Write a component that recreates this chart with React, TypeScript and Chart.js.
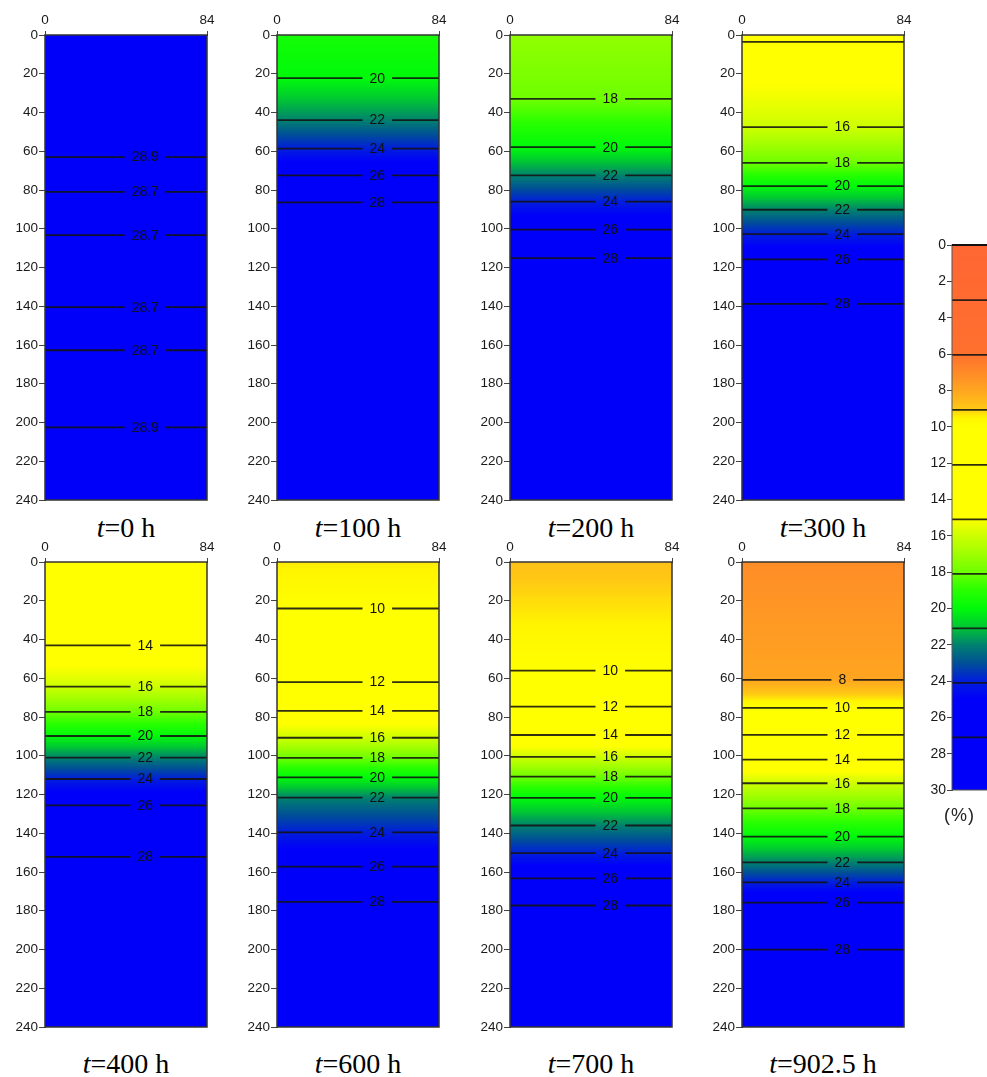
import React, { useEffect, useRef } from 'react';
import { Chart, registerables } from 'chart.js';

Chart.register(...registerables);

// ---------------- data ----------------
const TIMES = ['0', '100', '200', '300', '400', '600', '700', '902.5'];

// moisture content at the surface and at the bottom of each column (%)
const TOP_VALUES = [29.0, 19.5, 17.3, 13.8, 12.5, 9.4, 8.8, 7.1];
const BOTTOM_VALUES = [29.0, 29.5, 29.5, 29.5, 29.5, 29.5, 29.5, 29.5];

// contour depths (cm) and contour values (%)
const DEPTHS_0 = [63, 81, 103.3, 140.5, 162.7, 202.5];
const VALUES_0 = [28.9, 28.7, 28.7, 28.7, 28.7, 28.9];
const DEPTHS_100 = [22.3, 43.9, 58.6, 72.4, 86.4];
const VALUES_100 = [20, 22, 24, 26, 28];
const DEPTHS_200 = [33, 57.9, 72.4, 86, 100.4, 115.2];
const VALUES_200 = [18, 20, 22, 24, 26, 28];
const DEPTHS_300 = [3.5, 47.5, 66, 78, 90.2, 102.8, 115.8, 138.8];
const VALUES_300 = [14, 16, 18, 20, 22, 24, 26, 28];
const DEPTHS_400 = [43, 64.3, 77.4, 89.8, 101, 112, 125.6, 152.2];
const VALUES_400 = [14, 16, 18, 20, 22, 24, 26, 28];
const DEPTHS_600 = [24, 62, 76.8, 90.7, 101.1, 111.2, 121.6, 139.5, 157.2, 175.4];
const VALUES_600 = [10, 12, 14, 16, 18, 20, 22, 24, 26, 28];
const DEPTHS_700 = [56.1, 74.6, 89.3, 100.6, 110.8, 121.7, 136, 150.3, 163.3, 177.3];
const VALUES_700 = [10, 12, 14, 16, 18, 20, 22, 24, 26, 28];
const DEPTHS_902 = [60.8, 75.3, 89.2, 102, 114.2, 127.2, 141.7, 155, 165.4, 175.8, 200.1];
const VALUES_902 = [8, 10, 12, 14, 16, 18, 20, 22, 24, 26, 28];

// contours drawn without a label (panel index -> contour indices)
const UNLABELED = [[], [], [], [0], [], [], [], []];

const X_TICKS = [0, 84];
const LABEL_X = 52; // x position of the contour labels

// colour bar
const CBAR_LEVELS = [3.03, 6.05, 9.08, 12.1, 15.1, 18.1, 21.1, 24.1, 27.1];
const CMAP_VALUES = [0, 6, 7, 8, 9, 9.5, 10, 15, 16, 17, 18, 19, 20, 21, 22, 23, 24, 25, 30];
const CMAP_COLORS = [
  '#ff6633', '#ff702e', '#ff8a28', '#ffa520', '#ffc814', '#fff500', '#ffff00', '#ffff00',
  '#cdff00', '#a0ff00', '#6eff00', '#28ff00', '#00fa0a', '#00c832', '#00826e', '#005096',
  '#001edc', '#0000fa', '#0000fa',
];

const ALL_DEPTHS = [DEPTHS_0, DEPTHS_100, DEPTHS_200, DEPTHS_300, DEPTHS_400, DEPTHS_600, DEPTHS_700, DEPTHS_902];
const ALL_VALUES = [VALUES_0, VALUES_100, VALUES_200, VALUES_300, VALUES_400, VALUES_600, VALUES_700, VALUES_902];

// ---------------- layout ----------------
const COL_LEFTS = [45, 277, 510, 742];
const ROW_TOPS = [35, 562];
const PLOT_W = 162;
const PLOT_H = 465;
const AX_W = 45;
const AX_H = 25;
const PAD_R = 14;
const PAD_B = 12;
const TITLE_TOPS = [514, 1050];

const CB_LEFT = 952;
const CB_TOP = 245;
const CB_H = 545;
const CB_AX_W = 50;

const SANS = '"Liberation Sans", Arial, Helvetica, sans-serif';
const SERIF = '"Liberation Serif", "Times New Roman", Times, serif';
const LINE_COLOR = 'rgba(18,18,18,0.88)';
const TICK_SIZE = 13.5;

// ---------------- helpers ----------------
function hexToRgb(h: string): number[] {
  const n = parseInt(h.slice(1), 16);
  return [(n >> 16) & 255, (n >> 8) & 255, n & 255];
}
const CMAP_RGB = CMAP_COLORS.map(hexToRgb);

function cmap(v: number): string {
  if (v <= CMAP_VALUES[0]) return CMAP_COLORS[0];
  const n = CMAP_VALUES.length;
  if (v >= CMAP_VALUES[n - 1]) return CMAP_COLORS[n - 1];
  for (let i = 0; i < n - 1; i++) {
    const a = CMAP_VALUES[i], b = CMAP_VALUES[i + 1];
    if (v >= a && v <= b) {
      const t = (v - a) / (b - a);
      const c1 = CMAP_RGB[i], c2 = CMAP_RGB[i + 1];
      const c = c1.map((x, k) => Math.round(x + (c2[k] - x) * t));
      return `rgb(${c[0]},${c[1]},${c[2]})`;
    }
  }
  return CMAP_COLORS[n - 1];
}

function interp(xs: number[], ys: number[], x: number): number {
  if (x <= xs[0]) return ys[0];
  for (let i = 0; i < xs.length - 1; i++) {
    if (x >= xs[i] && x <= xs[i + 1]) {
      const t = (x - xs[i]) / (xs[i + 1] - xs[i] || 1);
      return ys[i] + (ys[i + 1] - ys[i]) * t;
    }
  }
  return ys[ys.length - 1];
}

function fmt(v: number): string {
  return Number.isInteger(v) ? String(v) : v.toFixed(1);
}

// ---------------- panel ----------------
function Panel({ idx }: { idx: number }) {
  const ref = useRef<HTMLCanvasElement>(null);
  const col = idx % 4;
  const row = Math.floor(idx / 4);
  const plotLeft = COL_LEFTS[col];
  const plotTop = ROW_TOPS[row];
  const W = AX_W + PLOT_W + PAD_R;
  const H = AX_H + PLOT_H + PAD_B;

  useEffect(() => {
    const depths = ALL_DEPTHS[idx];
    const values = ALL_VALUES[idx];
    const profD = [0, ...depths, 240];
    const profV = [TOP_VALUES[idx], ...values, BOTTOM_VALUES[idx]];
    let grad: CanvasGradient | null = null;

    const plugin = {
      id: 'profileFill' + idx,
      beforeDatasetsDraw(chart: any) {
        const { ctx, chartArea: a, scales } = chart;
        const y = scales.y;
        const y0 = y.getPixelForValue(0);
        const y1 = y.getPixelForValue(240);
        const g = ctx.createLinearGradient(0, y0, 0, y1);
        for (let d = 0; d <= 240; d += 0.5) {
          g.addColorStop(d / 240, cmap(interp(profD, profV, d)));
        }
        grad = g;
        ctx.save();
        ctx.fillStyle = g;
        ctx.fillRect(a.left, a.top, a.right - a.left, a.bottom - a.top);
        ctx.restore();
      },
      afterDatasetsDraw(chart: any) {
        const { ctx, chartArea: a, scales } = chart;
        const x = scales.x, y = scales.y;
        ctx.save();
        ctx.font = `14px ${SANS}`;
        ctx.textAlign = 'center';
        ctx.textBaseline = 'middle';
        const px = x.getPixelForValue(LABEL_X);
        depths.forEach((d, i) => {
          if (UNLABELED[idx].includes(i)) return;
          const label = fmt(values[i]);
          const py = y.getPixelForValue(d);
          const w = ctx.measureText(label).width;
          ctx.fillStyle = grad as any;
          ctx.fillRect(px - w / 2 - 7, py - 3, w + 14, 6);
          ctx.fillStyle = '#111';
          ctx.fillText(label, px, py + 0.5);
        });
        ctx.strokeStyle = '#333';
        ctx.lineWidth = 1.5;
        ctx.strokeRect(a.left, a.top, a.right - a.left, a.bottom - a.top);
        ctx.restore();
      },
    };

    const chart = new Chart(ref.current as HTMLCanvasElement, {
      type: 'line',
      data: {
        datasets: depths.map((d) => ({
          data: [{ x: 0, y: d }, { x: 84, y: d }],
          borderColor: LINE_COLOR,
          borderWidth: 1.8,
          pointRadius: 0,
          fill: false,
        })),
      },
      options: {
        responsive: false,
        animation: false,
        layout: { padding: { left: 0, top: 0, right: PAD_R, bottom: PAD_B } },
        plugins: { legend: { display: false }, tooltip: { enabled: false }, title: { display: false } },
        events: [],
        scales: {
          x: {
            type: 'linear',
            position: 'top',
            min: 0,
            max: 84,
            afterBuildTicks: (s: any) => {
              s.ticks = X_TICKS.map((v) => ({ value: v }));
            },
            afterFit: (s: any) => {
              s.height = AX_H;
            },
            grid: { drawOnChartArea: false, drawTicks: true, tickLength: 4, color: '#444' },
            border: { display: true, color: '#333', width: 1 },
            ticks: { font: { family: SANS, size: TICK_SIZE }, color: '#1a1a1a', padding: 3, maxRotation: 0, autoSkip: false },
          },
          y: {
            type: 'linear',
            reverse: true,
            min: 0,
            max: 240,
            afterFit: (s: any) => {
              s.width = AX_W;
            },
            grid: { drawOnChartArea: false, drawTicks: true, tickLength: 6, color: '#444' },
            border: { display: true, color: '#333', width: 1 },
            ticks: { stepSize: 20, font: { family: SANS, size: TICK_SIZE }, color: '#1a1a1a', padding: 1, autoSkip: false },
          },
        },
      } as any,
      plugins: [plugin],
    });
    return () => chart.destroy();
  }, [idx]);

  return (
    <>
      <canvas
        ref={ref}
        width={W}
        height={H}
        style={{ position: 'absolute', left: plotLeft - AX_W, top: plotTop - AX_H, width: W, height: H }}
      />
      <div
        style={{
          position: 'absolute',
          left: plotLeft + PLOT_W / 2 - 120,
          top: TITLE_TOPS[row],
          width: 240,
          textAlign: 'center',
          fontFamily: SERIF,
          fontSize: 28,
          lineHeight: '28px',
          color: '#000',
          whiteSpace: 'nowrap',
        }}
      >
        <i>t</i>={TIMES[idx]} h
      </div>
    </>
  );
}

// ---------------- colour bar ----------------
function ColorBar() {
  const ref = useRef<HTMLCanvasElement>(null);
  const W = CB_AX_W + 60;
  const H = 10 + CB_H + 10;
  useEffect(() => {
    const plugin = {
      id: 'cbarFill',
      beforeDatasetsDraw(chart: any) {
        const { ctx, chartArea: a, scales } = chart;
        const y = scales.y;
        const g = ctx.createLinearGradient(0, y.getPixelForValue(0), 0, y.getPixelForValue(30));
        for (let v = 0; v <= 30; v += 0.1) {
          g.addColorStop(Math.min(1, v / 30), cmap(v));
        }
        ctx.save();
        ctx.fillStyle = g;
        ctx.fillRect(a.left, a.top, a.right - a.left, a.bottom - a.top);
        ctx.restore();
      },
      afterDatasetsDraw(chart: any) {
        const { ctx, chartArea: a } = chart;
        ctx.save();
        ctx.strokeStyle = '#555';
        ctx.lineWidth = 1;
        ctx.strokeRect(a.left, a.top, a.right - a.left, a.bottom - a.top);
        ctx.strokeStyle = '#111';
        ctx.lineWidth = 2;
        ctx.beginPath();
        ctx.moveTo(a.left, a.top);
        ctx.lineTo(a.right, a.top);
        ctx.stroke();
        ctx.restore();
      },
    };
    const chart = new Chart(ref.current as HTMLCanvasElement, {
      type: 'line',
      data: {
        datasets: CBAR_LEVELS.map((v) => ({
          data: [{ x: 0, y: v }, { x: 1, y: v }],
          borderColor: LINE_COLOR,
          borderWidth: 1.8,
          pointRadius: 0,
          fill: false,
        })),
      },
      options: {
        responsive: false,
        animation: false,
        events: [],
        layout: { padding: { left: 0, top: 10, right: 0, bottom: 10 } },
        plugins: { legend: { display: false }, tooltip: { enabled: false } },
        scales: {
          x: { type: 'linear', display: false, min: 0, max: 1 },
          y: {
            type: 'linear',
            reverse: true,
            min: 0,
            max: 30,
            afterFit: (s: any) => {
              s.width = CB_AX_W;
            },
            grid: { drawOnChartArea: false, drawTicks: true, tickLength: 5, color: '#444' },
            border: { display: true, color: '#444', width: 1 },
            ticks: { stepSize: 2, font: { family: SANS, size: 14 }, color: '#1a1a1a', padding: 1, autoSkip: false },
          },
        },
      } as any,
      plugins: [plugin],
    });
    return () => chart.destroy();
  }, []);
  return (
    <>
      <canvas
        ref={ref}
        width={W}
        height={H}
        style={{ position: 'absolute', left: CB_LEFT - CB_AX_W, top: CB_TOP - 10, width: W, height: H }}
      />
      <div
        style={{
          position: 'absolute',
          left: 944,
          top: 805,
          fontFamily: SANS,
          fontSize: 18,
          lineHeight: '20px',
          letterSpacing: 1,
          color: '#222',
          whiteSpace: 'nowrap',
        }}
      >
        (%)
      </div>
    </>
  );
}

export default function App() {
  return (
    <div
      style={{
        position: 'absolute',
        left: 0,
        top: 0,
        width: 987,
        height: 1077,
        overflow: 'hidden',
        background: '#fff',
      }}
    >
      {TIMES.map((_, i) => (
        <Panel key={i} idx={i} />
      ))}
      <ColorBar />
    </div>
  );
}
